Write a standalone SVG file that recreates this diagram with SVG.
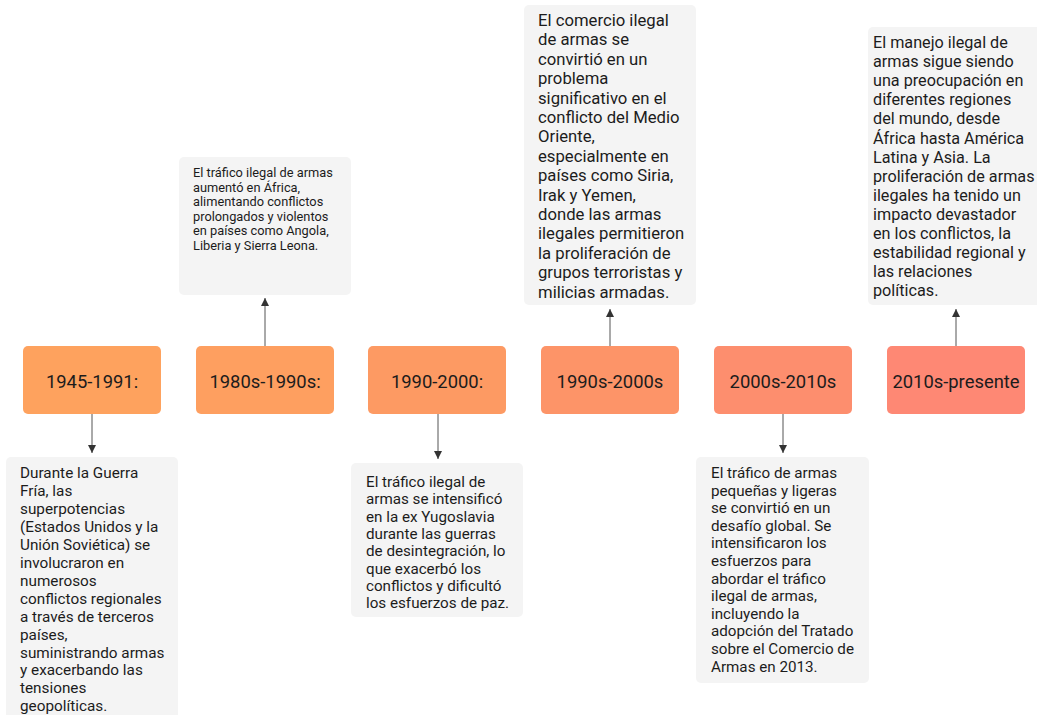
<svg xmlns="http://www.w3.org/2000/svg" width="1037" height="715" viewBox="0 0 1037 715">
<style>
.yr{font-family:Roboto,"Liberation Sans",sans-serif;font-size:18.4px;fill:#1c1c1c;text-anchor:middle}
.d{font-family:Roboto,"Liberation Sans",sans-serif;font-size:15px;fill:#1c1c1c}
.card{fill:#f4f4f4}
.cn{stroke:#555;stroke-width:1;fill:none}
</style>
<defs>
<marker id="ah" viewBox="0 0 10 10" refX="10" refY="5" markerWidth="8" markerHeight="10" markerUnits="userSpaceOnUse" orient="auto">
<path d="M0,0 L10,5 L0,10 Z" fill="#333"/>
</marker>
</defs>
<rect width="1037" height="715" fill="#fff"/>
<g id="connectors">
<line class="cn" x1="92" y1="414" x2="92" y2="453" marker-end="url(#ah)"/>
<line class="cn" x1="265" y1="346" x2="265" y2="298" marker-end="url(#ah)"/>
<line class="cn" x1="438" y1="414" x2="438" y2="459" marker-end="url(#ah)"/>
<line class="cn" x1="610" y1="346" x2="610" y2="309" marker-end="url(#ah)"/>
<line class="cn" x1="783" y1="414" x2="783" y2="453" marker-end="url(#ah)"/>
<line class="cn" x1="956" y1="346" x2="956" y2="309" marker-end="url(#ah)"/>
</g>
<g id="y1"><rect x="23" y="346" width="138" height="68" rx="5" fill="#fea25e"/><text class="yr" x="92" y="388">1945-1991:</text></g>
<g id="y2"><rect x="196" y="346" width="138" height="68" rx="5" fill="#fe9f60"/><text class="yr" x="265" y="388">1980s-1990s:</text></g>
<g id="y3"><rect x="368" y="346" width="138" height="68" rx="5" fill="#fd9a63"/><text class="yr" x="437" y="388">1990-2000:</text></g>
<g id="y4"><rect x="541" y="346" width="138" height="68" rx="5" fill="#fd9468"/><text class="yr" x="610" y="388">1990s-2000s</text></g>
<g id="y5"><rect x="714" y="346" width="138" height="68" rx="5" fill="#fd8e6e"/><text class="yr" x="783" y="388">2000s-2010s</text></g>
<g id="y6"><rect x="887" y="346" width="138" height="68" rx="5" fill="#fe8874"/><text class="yr" x="956" y="388">2010s-presente</text></g>
<g id="n1"><rect class="card" x="6" y="457" width="172" height="270" rx="5"/>
<text class="d" x="20" y="478" style="font-size:15.3px"><tspan x="20">Durante la Guerra</tspan><tspan x="20" dy="17.95">Fría, las</tspan><tspan x="20" dy="17.95">superpotencias</tspan><tspan x="20" dy="17.95">(Estados Unidos y la</tspan><tspan x="20" dy="17.95">Unión Soviética) se</tspan><tspan x="20" dy="17.95">involucraron en</tspan><tspan x="20" dy="17.95">numerosos</tspan><tspan x="20" dy="17.95">conflictos regionales</tspan><tspan x="20" dy="17.95">a través de terceros</tspan><tspan x="20" dy="17.95">países,</tspan><tspan x="20" dy="17.95">suministrando armas</tspan><tspan x="20" dy="17.95">y exacerbando las</tspan><tspan x="20" dy="17.95">tensiones</tspan><tspan x="20" dy="17.95">geopolíticas.</tspan></text></g>
<g id="n2"><rect class="card" x="179" y="157" width="172" height="138" rx="5"/>
<text class="d" x="193" y="177" style="font-size:12.8px"><tspan x="193">El tráfico ilegal de armas</tspan><tspan x="193" dy="14.6">aumentó en África,</tspan><tspan x="193" dy="14.6">alimentando conflictos</tspan><tspan x="193" dy="14.6">prolongados y violentos</tspan><tspan x="193" dy="14.6">en países como Angola,</tspan><tspan x="193" dy="14.6">Liberia y Sierra Leona.</tspan></text></g>
<g id="n3"><rect class="card" x="351" y="463" width="172" height="154" rx="5"/>
<text class="d" x="366" y="487" style="font-size:15.2px"><tspan x="366">El tráfico ilegal de</tspan><tspan x="366" dy="17.3">armas se intensificó</tspan><tspan x="366" dy="17.3">en la ex Yugoslavia</tspan><tspan x="366" dy="17.3">durante las guerras</tspan><tspan x="366" dy="17.3">de desintegración, lo</tspan><tspan x="366" dy="17.3">que exacerbó los</tspan><tspan x="366" dy="17.3">conflictos y dificultó</tspan><tspan x="366" dy="17.3">los esfuerzos de paz.</tspan></text></g>
<g id="n4"><rect class="card" x="524" y="5" width="172" height="300" rx="5"/>
<text class="d" x="538" y="26" style="font-size:16.7px"><tspan x="538">El comercio ilegal</tspan><tspan x="538" dy="19.4">de armas se</tspan><tspan x="538" dy="19.4">convirtió en un</tspan><tspan x="538" dy="19.4">problema</tspan><tspan x="538" dy="19.4">significativo en el</tspan><tspan x="538" dy="19.4">conflicto del Medio</tspan><tspan x="538" dy="19.4">Oriente,</tspan><tspan x="538" dy="19.4">especialmente en</tspan><tspan x="538" dy="19.4">países como Siria,</tspan><tspan x="538" dy="19.4">Irak y Yemen,</tspan><tspan x="538" dy="19.4">donde las armas</tspan><tspan x="538" dy="19.4">ilegales permitieron</tspan><tspan x="538" dy="19.4">la proliferación de</tspan><tspan x="538" dy="19.4">grupos terroristas y</tspan><tspan x="538" dy="19.4">milicias armadas.</tspan></text></g>
<g id="n5"><rect class="card" x="696" y="457" width="173" height="226" rx="5"/>
<text class="d" x="711" y="478" style="font-size:15.2px"><tspan x="711">El tráfico de armas</tspan><tspan x="711" dy="17.6">pequeñas y ligeras</tspan><tspan x="711" dy="17.6">se convirtió en un</tspan><tspan x="711" dy="17.6">desafío global. Se</tspan><tspan x="711" dy="17.6">intensificaron los</tspan><tspan x="711" dy="17.6">esfuerzos para</tspan><tspan x="711" dy="17.6">abordar el tráfico</tspan><tspan x="711" dy="17.6">ilegal de armas,</tspan><tspan x="711" dy="17.6">incluyendo la</tspan><tspan x="711" dy="17.6">adopción del Tratado</tspan><tspan x="711" dy="17.6">sobre el Comercio de</tspan><tspan x="711" dy="17.6">Armas en 2013.</tspan></text></g>
<g id="n6"><rect class="card" x="868" y="27" width="175" height="278" rx="5"/>
<text class="d" x="873" y="48" style="font-size:16.2px"><tspan x="873">El manejo ilegal de</tspan><tspan x="873" dy="19.1">armas sigue siendo</tspan><tspan x="873" dy="19.1">una preocupación en</tspan><tspan x="873" dy="19.1">diferentes regiones</tspan><tspan x="873" dy="19.1">del mundo, desde</tspan><tspan x="873" dy="19.1">África hasta América</tspan><tspan x="873" dy="19.1">Latina y Asia. La</tspan><tspan x="873" dy="19.1">proliferación de armas</tspan><tspan x="873" dy="19.1">ilegales ha tenido un</tspan><tspan x="873" dy="19.1">impacto devastador</tspan><tspan x="873" dy="19.1">en los conflictos, la</tspan><tspan x="873" dy="19.1">estabilidad regional y</tspan><tspan x="873" dy="19.1">las relaciones</tspan><tspan x="873" dy="19.1">políticas.</tspan></text></g>
</svg>
